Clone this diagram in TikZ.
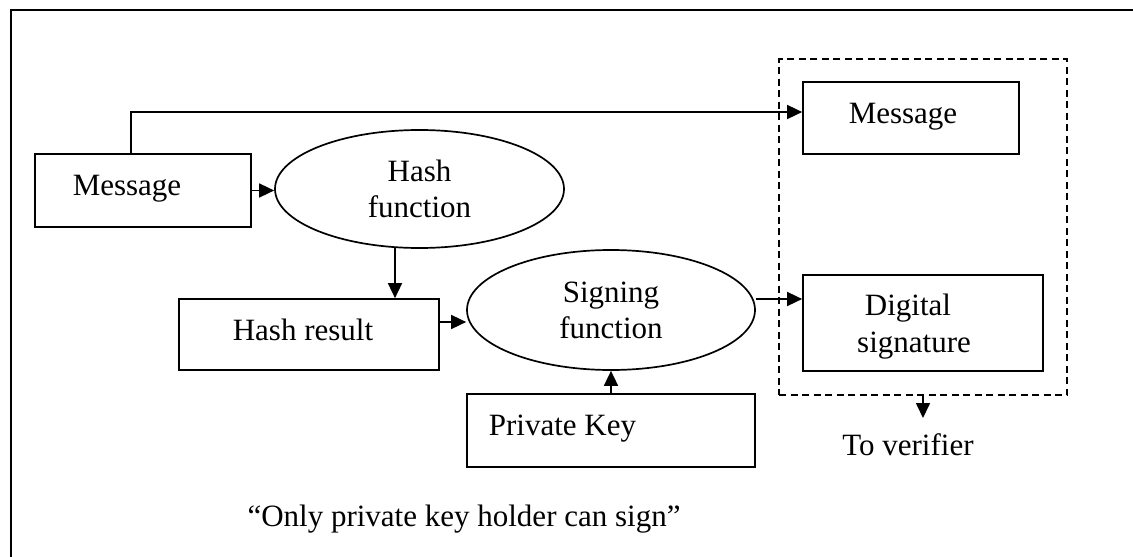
\documentclass[tikz,border=0pt]{standalone}
\usepackage{fontspec}
\setmainfont{Liberation Serif}
\usetikzlibrary{arrows.meta,shapes.geometric}

\tikzset{
  every node/.style={font=\fontsize{31}{36}\selectfont},
  box/.style={draw, line width=1.7pt, rectangle, inner sep=0pt},
  oval/.style={draw, line width=1.7pt, ellipse, inner sep=0pt, align=center},
  group/.style={draw, line width=1.7pt, dash pattern=on 7pt off 4.5pt, rectangle, inner sep=0pt},
  txt/.style={anchor=base, inner sep=0pt},
  arr/.style={line width=1.6pt, -{Triangle[length=15pt,width=14pt]}},
  frame/.style={line width=2.2pt}
}

\begin{document}
\begin{tikzpicture}[x=1pt, y=-1pt]
  \useasboundingbox (0,0) rectangle (1133,557);
  % outer frame, running off the right and bottom edges
  \draw[frame] (1140,10) -- (11,10) -- (11,565);

  % sender side
  \node[box, minimum width=216pt, minimum height=73pt] (msgA) at (143,190.5) {};
  \node[txt] at (127,195) {Message};

  \node[oval, minimum width=289pt, minimum height=118pt] (hash) at (419.5,189) {Hash\\function};

  \node[box, minimum width=260pt, minimum height=71pt] (hres) at (309,334.5) {};
  \node[txt] at (303,340) {Hash result};

  \node[oval, minimum width=288pt, minimum height=120pt] (sign) at (611,310) {Signing\\function};

  \node[box, minimum width=288pt, minimum height=73pt] (pkey) at (611,430.5) {};
  \node[txt] at (562.5,435) {Private Key};

  % what is sent to the verifier
  \node[group, minimum width=288pt, minimum height=336pt] (grp) at (923,227) {};
  \node[box, minimum width=216pt, minimum height=72pt] (msgB) at (911,118) {};
  \node[txt] at (903,123) {Message};
  \node[box, minimum width=240pt, minimum height=96pt] (dsig) at (923,323) {};
  \node[txt] at (908,315) {Digital};
  \node[txt] at (914,352) {signature};

  \coordinate (vtip) at (923,418);
  \node[txt] at (908,455) {To verifier};

  \node[txt] at (464,526) {“Only private key holder can sign”};

  % connectors
  \draw[arr] ([xshift=-12pt]msgA.north) |- ([yshift=6pt]msgB.west);
  \draw[arr] (msgA.east) -- (msgA.east -| hash.west);
  \draw[arr] ([xshift=-24.5pt,yshift=1pt]hash.south) -- ([xshift=-24.5pt]hash.south |- hres.north);
  \draw[arr] ([yshift=12.5pt]hres.east) -- ([yshift=12.5pt]hres.east -| sign.west);
  \draw[arr] (pkey.north) -- (sign.south);
  \draw[arr] ([yshift=11pt]sign.east) -- ([yshift=11pt]sign.east -| dsig.west);
  \draw[arr] (grp.south) -- (vtip);
\end{tikzpicture}
\end{document}
